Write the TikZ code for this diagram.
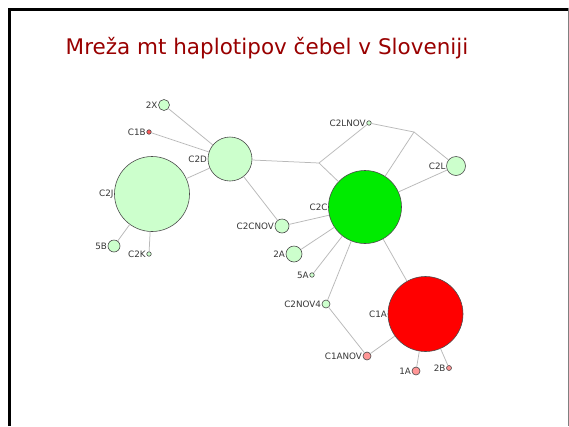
\documentclass[tikz,border=0pt]{standalone}
\usepackage{fontspec}
\setmainfont{DejaVu Sans}
\definecolor{lgreen}{RGB}{204,255,204}
\definecolor{bgreen}{RGB}{0,235,0}
\definecolor{bred}{RGB}{255,0,0}
\definecolor{pinkc}{RGB}{255,150,150}
\definecolor{tinyred}{RGB}{255,90,90}
\definecolor{outl}{RGB}{75,75,75}
\definecolor{edgec}{RGB}{185,185,185}
\definecolor{lblc}{RGB}{55,55,55}
\definecolor{titlec}{RGB}{153,0,0}
\begin{document}
\begin{tikzpicture}[x=1pt,y=-1pt,
  edge/.style={draw=edgec, line width=0.75pt},
  hap/.style={circle, draw=outl, line width=0.6pt, inner sep=0pt, minimum size=#1},
  lg/.style={hap=#1, fill=lgreen},
  gr/.style={hap=#1, fill=bgreen},
  rd/.style={hap=#1, fill=bred},
  pk/.style={hap=#1, fill=pinkc},
  tr/.style={hap=#1, fill=tinyred},
  lbl/.style={font=\fontsize{8.8}{10}\selectfont, text=lblc, inner sep=0.5pt},
  frameline/.style={line width=3pt, draw=black}
]
\useasboundingbox (0,0) rectangle (569,426);
\fill[white] (0,0) rectangle (569,426);
\draw[frameline] (9,426) -- (9,9) -- (567.7,9);
\draw[draw=gray, line width=1.3pt] (568.3,7.5) -- (568.3,426);

\node[anchor=base, text=titlec, font=\fontsize{21.5}{24}\selectfont] (title) at (267,54) {Mreža mt haplotipov čebel v Sloveniji};

% haplotype nodes
\node[lg=11, label={[lbl]left:2X}] (n2X) at (164,105) {};
\node[tr=4.5, label={[lbl]left:C1B}] (C1B) at (149,132) {};
\node[lg=44, label={[lbl]left:C2D}] (C2D) at (230,159) {};
\node[lg=75, label={[lbl]left:C2J}] (C2J) at (152,194) {};
\node[lg=12, label={[lbl]left:5B}] (n5B) at (114,246) {};
\node[lg=4.5, label={[lbl]left:C2K}] (C2K) at (149,254) {};
\node[lg=14, label={[lbl]left:C2CNOV}] (C2CNOV) at (282,226) {};
\node[lg=16, label={[lbl]left:2A}] (n2A) at (294,254) {};
\node[lg=4.5, label={[lbl]left:5A}] (n5A) at (312,275) {};
\node[gr=73, label={[lbl]left:C2C}] (C2C) at (365,207) {};
\node[lg=4.5, label={[lbl]left:C2LNOV}] (C2LNOV) at (369,123) {};
\node[lg=19, label={[lbl]left:C2L}] (C2L) at (456,166) {};
\node[lg=8, label={[lbl]left:C2NOV4}] (C2NOV4) at (326,304) {};
\node[rd=75, label={[lbl]left:C1A}] (C1A) at (425.5,314) {};
\node[pk=8, label={[lbl]left:C1ANOV}] (C1ANOV) at (367,356) {};
\node[pk=8, label={[lbl]left:1A}] (n1A) at (416,371) {};
\node[pk=5, label={[lbl]left:2B}] (n2B) at (449,368) {};

% median vectors
\coordinate (J1) at (319,163);
\coordinate (J2) at (414,132);

% edges
\draw[edge] (C2D) -- (n2X);
\draw[edge] (C2D) -- (C1B);
\draw[edge] (C2D) -- (C2J);
\draw[edge] (C2D) -- (J1);
\draw[edge] (C2D) -- (C2CNOV);
\draw[edge] (C2J) -- (n5B);
\draw[edge] (C2J) -- (C2K);
\draw[edge] (J1) -- (C2LNOV);
\draw[edge] (J1) -- (C2C);
\draw[edge] (C2LNOV) -- (J2);
\draw[edge] (J2) -- (C2L);
\draw[edge] (J2) -- (C2C);
\draw[edge] (C2C) -- (C2L);
\draw[edge] (C2C) -- (C2CNOV);
\draw[edge] (C2C) -- (n2A);
\draw[edge] (C2C) -- (n5A);
\draw[edge] (C2C) -- (C2NOV4);
\draw[edge] (C2C) -- (C1A);
\draw[edge] (C2NOV4) -- (C1ANOV);
\draw[edge] (C1ANOV) -- (C1A);
\draw[edge] (C1A) -- (n1A);
\draw[edge] (C1A) -- (n2B);
\end{tikzpicture}
\end{document}
